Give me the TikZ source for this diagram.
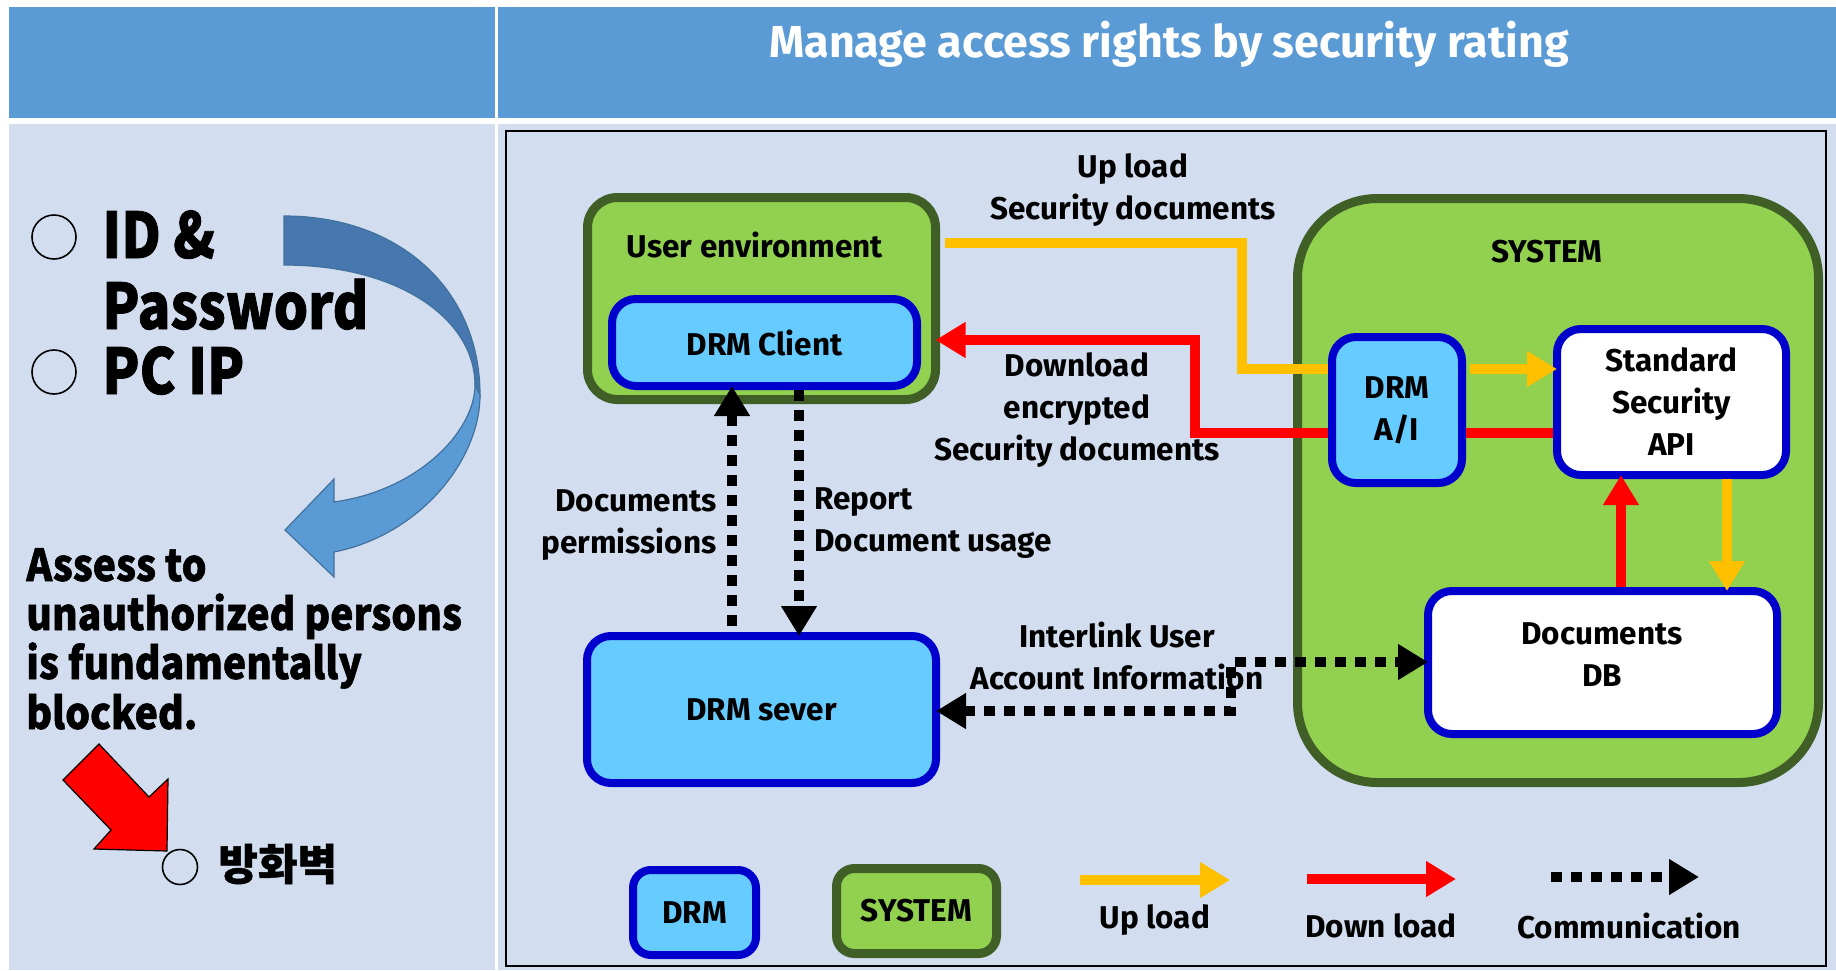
\documentclass[tikz,border=0pt]{standalone}
\usepackage{fontspec}
\setmainfont{Fira Sans}
\newfontfamily\krA{Noto Sans CJK KR}[FakeStretch=0.86, BoldFeatures={FakeBold=1.2}]
\newfontfamily\krC{Noto Sans CJK KR}[FakeStretch=0.89, BoldFeatures={FakeBold=1.2}]
\newfontfamily\krB{Noto Sans CJK KR}[BoldFeatures={FakeBold=1}]
\usetikzlibrary{arrows.meta}
\definecolor{hdrblue}{HTML}{5B9BD5}
\definecolor{rowblue}{HTML}{D2DEEF}
\definecolor{drmblue}{HTML}{0000CC}
\definecolor{drmfill}{HTML}{66CCFF}
\definecolor{sysgreen}{HTML}{92D050}
\definecolor{sysdark}{HTML}{3F5F26}
\definecolor{upyellow}{HTML}{FFC000}
\definecolor{dnred}{HTML}{FF0000}
\definecolor{arrdark}{HTML}{4677AE}
\definecolor{arredge}{HTML}{41719C}
\tikzset{
  lab/.style={inner sep=0pt, align=center, font=\fontsize{15.75pt}{21pt}\selectfont\bfseries},
  drmbox/.style={lab, draw=drmblue, fill=drmfill, line width=4pt, rounded corners=12pt},
  apibox/.style={drmbox, fill=white},
  envbox/.style={lab, draw=sysdark, fill=sysgreen, line width=4.5pt, rounded corners=15pt},
  upl/.style={draw=upyellow, line width=5pt},
  dnl/.style={draw=dnred, line width=5pt},
  comm/.style={draw=black, line width=5pt, dash pattern=on 5.5pt off 4.5pt},
  hd/.style={-{Triangle[length=15pt,width=17pt]}},
  bothhd/.style={{Triangle[length=15pt,width=17pt]}-{Triangle[length=15pt,width=17pt]}},
  bullet/.style={circle, draw=black, line width=0.8pt, inner sep=0pt, minimum size=#1},
  bigtxt/.style={inner sep=0pt, anchor=base west, font=\fontsize{31.5pt}{36pt}\selectfont\krA\bfseries},
  midtxt/.style={inner sep=0pt, anchor=base west, font=\fontsize{22pt}{25pt}\selectfont\krC\bfseries},
}
\begin{document}
\begin{tikzpicture}[x=0.5pt,y=-0.5pt]
\useasboundingbox (0,0) rectangle (1836,970);
\fill[white] (0,0) rectangle (1836,970);
% table cells
\fill[hdrblue] (9,7) rectangle (495,118);
\fill[hdrblue] (498,7) rectangle (1836,118);
\fill[rowblue] (9,124) rectangle (495,970);
\fill[rowblue] (498,124) rectangle (1836,970);
\node[inner sep=0pt, text=white, font=\fontsize{22.4pt}{26pt}\selectfont\bfseries] (title) at (1169,44) {Manage access rights by security rating};
% frame
\draw[black, line width=1pt] (506,131) rectangle (1826,966);

% left panel
\node[bullet=22pt] (b1) at (54,237) {};
\node[bullet=22pt] (b2) at (54,372) {};
\node[bigtxt] (t1) at (102,258) {ID \&};
\node[bigtxt] (t2) at (102,329) {Password};
\node[bigtxt] (t3) at (102,394) {PC IP};
\node[midtxt] (a1) at (26,581) {Assess to};
\node[midtxt] (a2) at (26,630) {unauthorized persons};
\node[midtxt] (a3) at (26,679) {is fundamentally};
\node[midtxt] (a4) at (26,729) {blocked.};
\node[bullet=17.5pt] (b3) at (180,867) {};
\node[inner sep=0pt, anchor=west, font=\fontsize{21.5pt}{25pt}\selectfont\krB\bfseries] (fw) at (218,864) {방화벽};
% curved blue arrow
\filldraw[fill=arrdark, draw=arredge, line width=0.6pt]
  (284,216) .. controls (400,216) and (480,290) .. (480,395)
  -- (475,385) .. controls (475,320) and (400,265) .. (284,265) -- cycle;
\filldraw[fill=hdrblue, draw=arredge, line width=0.6pt]
  (480,395) .. controls (480,460) and (420,535) .. (334,552)
  -- (334,577) -- (285,530) -- (334,479) -- (334,502)
  .. controls (420,490) and (475,430) .. (475,385) -- cycle;
% red block arrow
\filldraw[fill=dnred, draw=black, line width=0.6pt]
  (99,744) -- (149,797) -- (168,779) -- (167,851) -- (94,849) -- (111,830) -- (63,780) -- cycle;

% diagram boxes
\node[envbox, minimum width=174pt, minimum height=101pt] (userenv) at (761.5,298.5) {};
\node[lab] (uelab) at (755,245) {User environment};
\node[drmbox, minimum width=152.5pt, minimum height=43.5pt] (client) at (764.5,342.5) {DRM Client};
\node[drmbox, minimum width=174.5pt, minimum height=73.5pt] (sever) at (761.5,709.5) {DRM sever};
\node[envbox, rounded corners=40pt, minimum width=260.5pt, minimum height=292pt] (system) at (1558,490.5) {};
\node[lab] (syslab) at (1547,252) {SYSTEM};
\node[drmbox, minimum width=65pt, minimum height=73pt] (drmai) at (1397,410) {DRM\\A/I};
\node[apibox, minimum width=114.5pt, minimum height=73pt] (api) at (1671.5,402) {Standard\\Security\\API};
\node[apibox, minimum width=174.5pt, minimum height=71.5pt] (db) at (1602.5,662.5) {};
\node[lab] (dblab) at (1602,655) {Documents\\DB};

% labels
\node[lab] (l1) at (1133,190) {Up load\\Security documents};
\node[lab] (l2) at (1077,410) {Download\\encrypted\\Security documents};
\node[lab, align=right, anchor=east] (l3) at (717,525) {Documents\\permissions};
\node[lab, align=left, anchor=west] (l4) at (814,523) {Report\\Document usage};
\node[lab] (l5) at (1117,656) {Interlink User\\Account Information};

% connectors
\coordinate (ub1) at (1242,243);
\coordinate (ub2) at (1242,369);
\draw[upl, shorten <=2.25pt] (userenv.east |- ub1) -- (ub1) -- (ub2) -- (drmai.west |- ub2);
\draw[upl, hd, shorten <=2pt, shorten >=-2pt] (drmai.east |- ub2) -- (api.west |- ub2);
\coordinate (rb1) at (1195,340);
\coordinate (rb2) at (1195,433);
\draw[dnl, hd, shorten >=-2.25pt] (drmai.west |- rb2) -- (rb2) -- (rb1) -- (userenv.east |- rb1);
\draw[dnl] (api.west |- rb2) -- (drmai.east |- rb2);
\coordinate (rv) at (1621,530);
\draw[dnl, hd, shorten >=-2pt] (db.north -| rv) -- (api.south -| rv);
\coordinate (yv) at (1727,530);
\draw[upl, hd, shorten >=-2pt] (api.south -| yv) -- (db.north -| yv);
\coordinate (dl) at (732,500);
\coordinate (dr) at (799,500);
\draw[comm, hd, shorten <=3pt, shorten >=-2pt] (sever.north -| dl) -- (client.south -| dl);
\draw[comm, hd, shorten >=-2pt] (client.south -| dr) -- (sever.north -| dr);
\coordinate (ia) at (1231,662);
\coordinate (ib) at (1231,711);
\draw[comm, bothhd, shorten <=-2pt, shorten >=-2pt] (sever.east |- ib) -- (ib) -- (ia) -- (db.west |- ia);

% legend
\node[drmbox, rounded corners=9pt, minimum width=61.5pt, minimum height=42.5pt] (lgdrm) at (694.5,912.5) {DRM};
\node[envbox, rounded corners=9pt, minimum width=80pt, minimum height=42.5pt] (lgsys) at (916.5,911) {SYSTEM};
\coordinate (ly1) at (1080,880);
\coordinate (ly2) at (1230,880);
\draw[upl, hd] (ly1) -- (ly2);
\node[lab] (lyt) at (1155,920) {Up load};
\coordinate (lr1) at (1307,879);
\coordinate (lr2) at (1456,879);
\draw[dnl, hd] (lr1) -- (lr2);
\node[lab] (lrt) at (1381,926) {Down load};
\coordinate (lc1) at (1551,877);
\coordinate (lc2) at (1699,877);
\draw[comm, hd] (lc1) -- (lc2);
\node[lab] (lct) at (1629,926) {Communication};
\end{tikzpicture}
\end{document}
